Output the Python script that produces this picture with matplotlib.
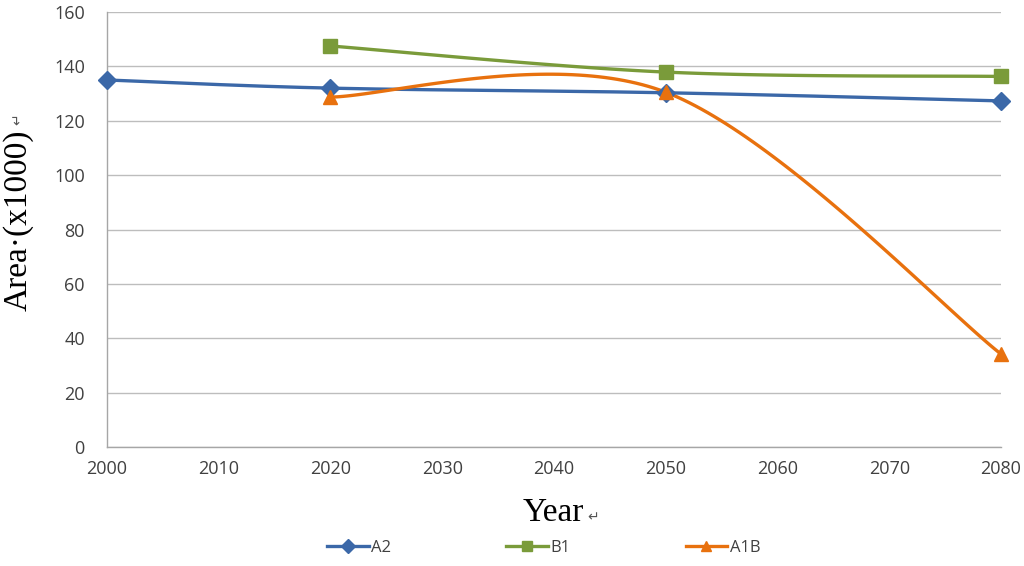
import numpy as np
import matplotlib
matplotlib.use("Agg")
import matplotlib.pyplot as plt

years_a2 = [2000, 2020, 2050, 2080]
a2 = [135.0, 132.0, 130.3, 127.3]
years_b1 = [2020, 2050, 2080]
b1 = [147.5, 137.9, 136.3]
years_a1b = [2020, 2050, 2080]
a1b = [128.7, 130.5, 34.2]

x_ticks = list(range(2000, 2081, 10))
y_ticks = list(range(0, 161, 20))

fig = plt.figure(figsize=(10.24, 5.66), dpi=100)
ax = fig.add_axes([0.1045, 0.2102, 0.873, 0.7686])
ax.set_xlim(2000, 2080)
ax.set_ylim(0, 160)

W, H = 894.0, 435.0  # approx plot size in px for smoothing in screen space


def smooth(xs, ys, n=60):
    px = [(x - 2000) * W / 80 for x in xs]
    py = [y * H / 160 for y in ys]
    P = np.array(list(zip(px, py)))
    out = []
    m = len(P)
    for i in range(m - 1):
        p0 = P[i - 1] if i > 0 else P[i]
        p1 = P[i]
        p2 = P[i + 1]
        p3 = P[i + 2] if i + 2 < m else P[i + 1]
        c1 = p1 + (p2 - p0) / 6
        c2 = p2 - (p3 - p1) / 6
        t = np.linspace(0, 1, n)[:, None]
        seg = (1 - t) ** 3 * p1 + 3 * (1 - t) ** 2 * t * c1 + 3 * (1 - t) * t ** 2 * c2 + t ** 3 * p2
        out.append(seg if i == 0 else seg[1:])
    S = np.vstack(out)
    return S[:, 0] * 80 / W + 2000, S[:, 1] * 160 / H


series = [
    ("A2", years_a2, a2, "#3B68A8", "D", 9),
    ("B1", years_b1, b1, "#7A9B3A", "s", 10),
    ("A1B", years_a1b, a1b, "#E8710E", "^", 10),
]
for name, xs, ys, col, mk, ms in series:
    sx, sy = smooth(xs, ys)
    ax.plot(sx, sy, color=col, lw=2.4, zorder=3, clip_on=False)
    ax.plot(xs, ys, linestyle="none", marker=mk, ms=ms, color=col, zorder=4, clip_on=False)
    ax.plot([], [], color=col, lw=2.4, marker=mk, ms=7, label=name)

ax.set_xticks(x_ticks)
ax.set_yticks(y_ticks)
ax.grid(axis="y", color="#BDBDBD", lw=1.0)
ax.set_axisbelow(True)
for s in ["top", "right"]:
    ax.spines[s].set_visible(False)
for s in ["left", "bottom"]:
    ax.spines[s].set_color("#A6A6A6")
    ax.spines[s].set_linewidth(1.0)
ax.tick_params(axis="x", length=0, pad=9, labelsize=13, labelcolor="#404040")
ax.tick_params(axis="y", length=0, pad=16, labelsize=13, labelcolor="#404040")
for lab in ax.get_xticklabels() + ax.get_yticklabels():
    lab.set_family(["Open Sans", "DejaVu Sans"])

serif = ["Liberation Serif", "DejaVu Serif"]
fig.text(0.540, 0.0936, "Year", family=serif, fontsize=24, ha="center", va="center")
fig.text(0.0176, 0.611, "Area\u00b7(x1000)", family=serif, fontsize=24, ha="center", va="center", rotation=90)
fig.text(0.579, 0.086, "\u21b5", fontsize=10, family="DejaVu Sans", color="#555555", ha="center", va="center")
fig.text(0.0176, 0.79, "\u21b5", fontsize=10, family="DejaVu Sans", color="#555555", rotation=90, ha="center", va="center")

leg = fig.legend(loc="center", bbox_to_anchor=(0.531, 0.032), ncol=3, frameon=False,
                 columnspacing=6.9, handlelength=2.5, handletextpad=0.15,
                 prop={"family": "Open Sans", "size": 12})
for t in leg.get_texts():
    t.set_color("#404040")

fig.savefig("out.png", dpi=100)
